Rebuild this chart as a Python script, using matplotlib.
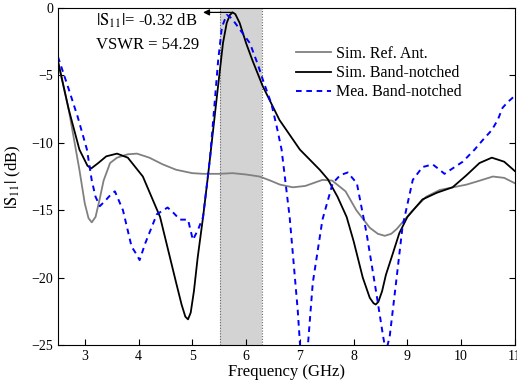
import numpy as np
import matplotlib as mpl
mpl.use("Agg")
import matplotlib.pyplot as plt

plt.rcParams["font.family"] = ["Liberation Serif", "DejaVu Serif"]
plt.rcParams["mathtext.fontset"] = "stix"

# Sim. Ref. Ant.
ref_f = [2.5, 2.7, 2.9, 3.0, 3.07, 3.13, 3.2, 3.27, 3.35, 3.47, 3.6, 3.8, 3.97, 4.2,
         4.45, 4.7, 5.0, 5.2, 5.5, 5.75, 6.0, 6.25, 6.45, 6.63, 6.87, 7.1, 7.42, 7.6,
         7.85, 8.05, 8.3, 8.45, 8.58, 8.7, 8.8, 9.1, 9.35, 9.6, 10.1, 10.35, 10.59,
         10.8, 11.0]
ref_s = [-4.0, -7.5, -12.0, -14.5, -15.6, -15.9, -15.5, -14.3, -12.8, -11.5, -11.1,
         -10.85, -10.8, -11.1, -11.6, -12.0, -12.25, -12.3, -12.3, -12.25, -12.35,
         -12.5, -12.8, -13.1, -13.3, -13.2, -12.75, -12.8, -13.6, -15.0, -16.3, -16.75,
         -16.9, -16.75, -16.4, -15.0, -14.0, -13.5, -13.1, -12.8, -12.5, -12.6, -13.0]

# Sim. Band-notched
sim_f = [2.5, 2.7, 2.9, 3.05, 3.12, 3.25, 3.4, 3.6, 3.8, 4.08, 4.4, 4.7, 4.8, 4.87,
         4.92, 4.97, 5.03, 5.1, 5.2, 5.29, 5.38, 5.47, 5.57, 5.64, 5.7, 5.75, 5.8, 5.88,
         6.0, 6.12, 6.31, 6.62, 7.0, 7.37, 7.52, 7.7, 7.87, 8.0, 8.17, 8.3, 8.37, 8.41,
         8.46, 8.53, 8.6, 8.73, 8.85, 9.0, 9.28, 9.55, 9.84, 10.1, 10.34, 10.57, 10.8,
         11.0]
sim_s = [-3.9, -7.5, -10.5, -11.7, -11.9, -11.5, -11.0, -10.8, -11.1, -12.5, -15.5,
         -20.4, -22.0, -22.9, -23.1, -22.6, -21.0, -18.5, -15.5, -12.5, -9.3, -6.1,
         -2.6, -1.1, -0.5, -0.32, -0.45, -1.1, -2.6, -3.9, -5.8, -8.3, -10.5, -12.0,
         -12.7, -14.0, -15.5, -17.3, -20.0, -21.5, -21.9, -22.0, -21.8, -21.0, -19.8,
         -18.2, -16.7, -15.5, -14.2, -13.7, -13.3, -12.4, -11.5, -11.1, -11.4, -12.1]

# Mea. Band-notched
mea_f = [2.5, 2.7, 2.87, 3.04, 3.13, 3.2, 3.28, 3.38, 3.47, 3.56, 3.71, 3.87, 3.95,
         4.02, 4.12, 4.22, 4.34, 4.54, 4.65, 4.77, 4.92, 5.01, 5.1, 5.2, 5.33, 5.42,
         5.48, 5.55, 5.64, 5.73, 5.85, 6.07, 6.22, 6.31, 6.47, 6.57, 6.66, 6.72, 6.81,
         6.96, 7.02, 7.1, 7.15, 7.24, 7.42, 7.61, 7.75, 7.89, 8.06, 8.24, 8.42, 8.55,
         8.6, 8.67, 8.8, 8.91, 9.1, 9.28, 9.47, 9.6, 9.69, 9.84, 10.03, 10.25, 10.4,
         10.57, 10.68, 10.77, 10.86, 11.0]
mea_s = [-3.6, -6.0, -8.1, -10.5, -12.8, -14.0, -14.7, -14.3, -13.9, -13.6, -15.0,
         -17.7, -18.2, -18.7, -17.5, -16.5, -15.3, -14.8, -15.2, -15.7, -15.7, -17.2,
         -16.5, -15.5, -11.1, -6.8, -3.9, -1.4, -0.5, -0.75, -1.4, -2.6, -4.2, -5.3,
         -7.1, -8.8, -10.5, -12.5, -15.5, -22.4, -26.0, -27.0, -25.0, -20.4, -15.7,
         -13.0, -12.4, -12.2, -13.0, -16.7, -21.1, -24.4, -25.5, -24.4, -20.0, -16.2,
         -12.75, -11.8, -11.6, -12.0, -12.3, -11.9, -11.4, -10.5, -9.8, -9.05, -8.3,
         -7.4, -7.0, -6.5]

notch_band = (5.52, 6.3)
peak_f, peak_s = 5.75, -0.32
xticks = [3, 4, 5, 6, 7, 8, 9, 10, 11]
yticks = [0, -5, -10, -15, -20, -25]

fig = plt.figure(figsize=(5.17, 3.85), dpi=100)
ax = fig.add_axes([0.112, 0.104, 0.884, 0.875])

ax.axvspan(notch_band[0], notch_band[1], facecolor="#d3d3d3", edgecolor="none", zorder=0)
for xv in notch_band:
    ax.axvline(xv, color="#666666", lw=0.8, ls=(0, (1, 1.5)), zorder=1)

ax.plot(ref_f, ref_s, color="#808080", lw=1.3, label="Sim. Ref. Ant.")
ax.plot(sim_f, sim_s, color="black", lw=1.3, label="Sim. Band-notched")
ax.plot(mea_f, mea_s, color="#0000ff", lw=1.4, ls=(0, (2.9, 2.4)), label="Mea. Band-notched")

# arrow from the notch peak back to the text
ax.annotate("", xy=(5.2, peak_s), xytext=(peak_f, peak_s),
            arrowprops=dict(arrowstyle="-|>", color="black", lw=0.9,
                            shrinkA=0, shrinkB=0, mutation_scale=9))
ax.text(3.2, -0.95, r"$|\mathrm{S}_{11}|$= -0.32 dB", fontsize=12, va="center")
ax.text(3.2, -2.75, "VSWR = 54.29", fontsize=12, va="center")

ax.set_xlim(2.5, 11)
ax.set_ylim(-25, 0)
ax.set_xticks(xticks)
ax.set_yticks(yticks)
ax.tick_params(direction="in", top=False, right=True, labelsize=10, length=4)
ax.set_xlabel("Frequency (GHz)", fontsize=12, labelpad=1)
ax.set_ylabel(r"$|\mathrm{S}_{11}|$ (dB)", fontsize=12, labelpad=6)

ax.legend(loc="upper right", bbox_to_anchor=(0.915, 0.93), frameon=False, fontsize=11.5,
          handlelength=2.2, handletextpad=0.3, labelspacing=0.2)

fig.savefig("out.png", dpi=100)
